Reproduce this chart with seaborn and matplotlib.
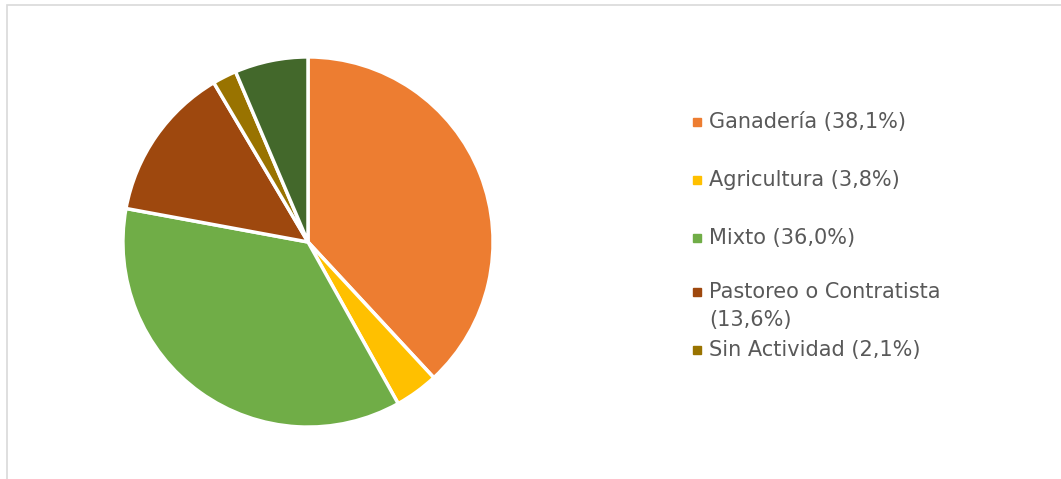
import matplotlib.pyplot as plt
import matplotlib.patches as mpatches
import seaborn as sns

sns.set_theme(style='white')
plt.rcParams['font.family'] = ['DejaVu Sans']

categories = ['Ganadería', 'Agricultura', 'Mixto', 'Pastoreo o Contratista', 'Sin Actividad', 'Otros']
values = [38.1, 3.8, 36.0, 13.6, 2.1, 6.4]
colors = ['#ED7D31', '#FFC000', '#70AD47', '#9E480E', '#997300', '#43682B']
legend_labels = ['Ganadería (38,1%)', 'Agricultura (3,8%)', 'Mixto (36,0%)',
                 'Pastoreo o Contratista\n(13,6%)', 'Sin Actividad (2,1%)']

fig = plt.figure(figsize=(10.61, 4.79), dpi=100)

# chart frame (partly cut off in the original)
frame = mpatches.Rectangle((7 / 1061, -0.05), 1.2, 1 - 5 / 479 + 0.05,
                           transform=fig.transFigure, fill=False,
                           edgecolor='#D9D9D9', linewidth=1.2)
fig.patches.append(frame)

ax = fig.add_axes([122 / 1061, 1 - 428 / 479, 372 / 1061, 372 / 479])
ax.pie(values, colors=colors, startangle=90, counterclock=False,
       wedgeprops=dict(edgecolor='white', linewidth=2.5))
ax.set_xlim(-1.005, 1.005)
ax.set_ylim(-1.005, 1.005)
ax.set_aspect('equal')
ax.axis('off')

# legend, drawn by hand to keep the Excel spacing
legend_y = [122, 180, 238, 292, 350]
for lab, col, y in zip(legend_labels, colors, legend_y):
    yf = 1 - y / 479
    fig.patches.append(mpatches.Rectangle((693 / 1061, yf - 4 / 479), 8 / 1061, 8 / 479,
                                          transform=fig.transFigure, color=col))
    fig.text(709 / 1061, 1 - (y - 10) / 479, lab, ha='left', va='top', fontsize=15,
             color='#595959', linespacing=1.5)

fig.savefig('out.png', dpi=100)
